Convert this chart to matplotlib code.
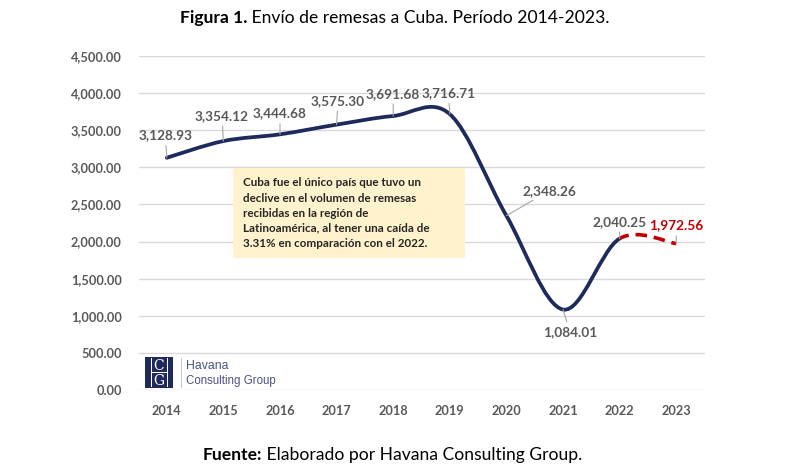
import matplotlib
matplotlib.use("Agg")
import matplotlib.pyplot as plt
from matplotlib.path import Path
from matplotlib.patches import PathPatch, Rectangle
from matplotlib.ticker import FuncFormatter

# data
years = ["2014", "2015", "2016", "2017", "2018", "2019", "2020", "2021", "2022", "2023"]
remesas = [3128.93, 3354.12, 3444.68, 3575.30, 3691.68, 3716.71, 2348.26, 1084.01, 2040.25, 1972.56]
# label offsets in points (dx, dy) from each point
label_offsets = [(-1, 16), (-1, 18), (0, 15), (1, 17), (0, 16), (-1, 15), (31, 18), (5, -16), (0, 12), (0, 13)]

NAVY = "#1F2A5C"
RED = "#C00000"
GRAY = "#595959"
FONT = "Lato"

plt.rcParams["font.family"] = [FONT, "DejaVu Sans"]

fig = plt.figure(figsize=(7.9, 4.73), dpi=100)
ax = fig.add_axes([138.5 / 790, 83 / 473, 566 / 790, 334 / 473])

x = list(range(len(years)))


def smooth_path(xs, ys, i0, i1):
    # excel-like smoothed line as cubic bezier segments (catmull-rom tangents)
    n = len(xs)
    verts = [(xs[i0], ys[i0])]
    codes = [Path.MOVETO]
    for i in range(i0, i1):
        a = max(i - 1, 0)
        b = min(i + 2, n - 1)
        c1 = (xs[i] + (xs[i + 1] - xs[a]) / 6, ys[i] + (ys[i + 1] - ys[a]) / 6)
        c2 = (xs[i + 1] - (xs[b] - xs[i]) / 6, ys[i + 1] - (ys[b] - ys[i]) / 6)
        verts += [c1, c2, (xs[i + 1], ys[i + 1])]
        codes += [Path.CURVE4] * 3
    return Path(verts, codes)


ax.add_patch(PathPatch(smooth_path(x, remesas, 0, 8), fill=False, edgecolor=NAVY,
                       lw=2.7, capstyle="round", joinstyle="round", zorder=3))
ax.add_patch(PathPatch(smooth_path(x, remesas, 8, 9), fill=False, edgecolor=RED,
                       lw=2.6, linestyle=(0.5, (3.2, 1.9)), zorder=3))

ax.set_xlim(-0.5, len(years) - 0.5)
ax.set_ylim(0, 4500)
ax.set_yticks(range(0, 4501, 500))
ax.yaxis.set_major_formatter(FuncFormatter(lambda v, p: f"{v:,.2f}"))
ax.set_xticks(x)
ax.set_xticklabels(years)
ax.grid(axis="y", color="#D9D9D9", lw=1.0)
ax.set_axisbelow(True)
for s in ax.spines.values():
    s.set_visible(False)
ax.tick_params(axis="both", length=0, labelsize=9.2, labelcolor=GRAY)
ax.tick_params(axis="y", pad=12)
ax.tick_params(axis="x", pad=11)
for lab in ax.get_xticklabels() + ax.get_yticklabels():
    lab.set_fontweight("bold")

# data labels with leader lines
for i, (xi, v) in enumerate(zip(x, remesas)):
    col = RED if i == len(remesas) - 1 else GRAY
    ax.annotate(f"{v:,.2f}", xy=(xi, v), xytext=label_offsets[i], textcoords="offset points",
                ha="center", va="center", fontsize=9.8, fontweight="bold", color=col,
                arrowprops=dict(arrowstyle="-", color="#A6A6A6", lw=0.8, shrinkA=1, shrinkB=0),
                zorder=4)

# callout box
fig.patches.append(Rectangle((233 / 790, 1 - 258 / 473), 232 / 790, 90 / 473,
                             transform=fig.transFigure, facecolor="#FFF2CC", edgecolor="none", zorder=2))
callout = ["Cuba fue el único país que tuvo un",
           "declive en el volumen de remesas",
           "recibidas en la región de",
           "Latinoamérica, al tener una caída de",
           "3.31% en comparación con el 2022."]
for k, line in enumerate(callout):
    fig.text(243 / 790, 1 - (183 + 15.1 * k) / 473, line, ha="left", va="center",
             fontsize=8.4, fontweight="bold", color="#262626", zorder=3)

# logo
fig.patches.append(Rectangle((145 / 790, 1 - 388 / 473), 28 / 790, 31 / 473,
                             transform=fig.transFigure, facecolor=NAVY, edgecolor="none", zorder=2))
for xs_ in (150.5, 167.0):
    fig.patches.append(Rectangle((xs_ / 790, 1 - 387 / 473), 1 / 790, 29 / 473,
                                 transform=fig.transFigure, facecolor="white", edgecolor="none", zorder=3))
fig.patches.append(Rectangle((151 / 790, 1 - 373.5 / 473), 16 / 790, 1 / 473,
                             transform=fig.transFigure, facecolor="white", edgecolor="none", zorder=3))
fig.text(159 / 790, 1 - 366 / 473, "C", ha="center", va="center", fontsize=10,
         family="DejaVu Serif", color="white")
fig.text(159 / 790, 1 - 381 / 473, "G", ha="center", va="center", fontsize=10,
         family="DejaVu Serif", color="white")
fig.patches.append(Rectangle((181 / 790, 1 - 388 / 473), 0.8 / 790, 30 / 473,
                             transform=fig.transFigure, facecolor="#C8C8D0", edgecolor="none", zorder=2))
fig.text(186 / 790, 1 - 366 / 473, "Havana", ha="left", va="center", fontsize=8.8,
         family="Liberation Sans", color="#4A5382")
fig.text(186 / 790, 1 - 380.5 / 473, "Consulting Group", ha="left", va="center", fontsize=8.3,
         family="Liberation Sans", color="#4A5382")

# title and source
fig.text(247 / 790, 1 - 18 / 473, "Figura 1.", ha="right", va="center", fontsize=12.6,
         fontweight="bold", color="black")
fig.text(247 / 790, 1 - 18 / 473, " Envío de remesas a Cuba. Período 2014-2023.", ha="left",
         va="center", fontsize=12.6, color="black")
fig.text(262 / 790, 1 - 455 / 473, "Fuente:", ha="right", va="center", fontsize=12.6,
         fontweight="bold", color="black")
fig.text(262 / 790, 1 - 455 / 473, " Elaborado por Havana Consulting Group.", ha="left",
         va="center", fontsize=12.6, color="black")

fig.savefig("out.png", dpi=100)
